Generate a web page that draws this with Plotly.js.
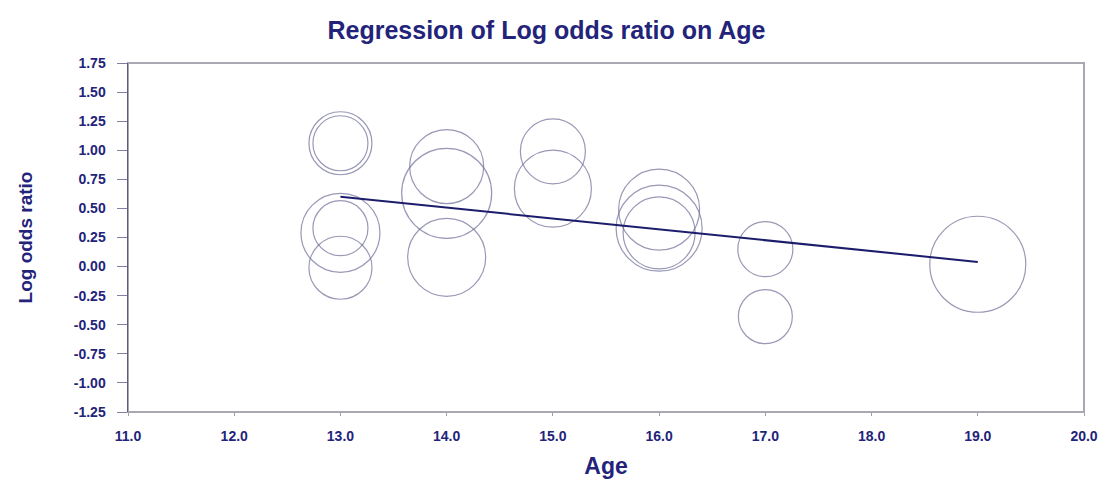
<!DOCTYPE html>
<html>
<head>
<meta charset="utf-8">
<script src="https://cdn.plot.ly/plotly-3.0.1.min.js"></script>
<style>
html,body{margin:0;padding:0;background:#ffffff;}
#chart{width:1104px;height:483px;}
</style>
</head>
<body>
<div id="chart"></div>
<script>
// Study-level data
var age          = [13, 13, 13, 13, 13, 14, 14, 14, 15, 15, 16, 16, 16, 17, 17, 19];
var logOddsRatio = [1.06, 1.06, 0.29, 0.33, -0.01, 0.86, 0.63, 0.08, 0.99, 0.67, 0.49, 0.33, 0.29, 0.15, -0.43, 0.02];
var studyWeight  = [63, 55, 79, 55, 63, 74, 90, 78, 65, 77, 81, 86, 72, 55, 54, 96];

// Fitted regression line end points
var fitAge = [13, 19];
var fitLogOdds = [0.60, 0.04];

// Tick values and labels
var xTickVals = [11, 12, 13, 14, 15, 16, 17, 18, 19, 20];
var xTickLabels = ['11.0', '12.0', '13.0', '14.0', '15.0', '16.0', '17.0', '18.0', '19.0', '20.0'];
var yTickVals = [-1.25, -1.0, -0.75, -0.5, -0.25, 0, 0.25, 0.5, 0.75, 1.0, 1.25, 1.5, 1.75];
var yTickLabels = ['-1.25', '-1.00', '-0.75', '-0.50', '-0.25', '0.00', '0.25', '0.50', '0.75', '1.00', '1.25', '1.50', '1.75'];

var navy = '#23237a';
var fontFam = '"Liberation Sans", Arial, sans-serif';

var bubbles = {
  type: 'scatter',
  mode: 'markers',
  x: age,
  y: logOddsRatio,
  marker: {
    size: studyWeight,
    sizemode: 'diameter',
    sizeref: 1,
    color: 'rgba(0,0,0,0)',
    line: {color: '#6e6e98', width: 1.2}
  },
  hoverinfo: 'x+y',
  showlegend: false
};

var fit = {
  type: 'scatter',
  mode: 'lines',
  x: fitAge,
  y: fitLogOdds,
  line: {color: '#1c1c6c', width: 2},
  hoverinfo: 'skip',
  showlegend: false
};

var layout = {
  width: 1104,
  height: 483,
  paper_bgcolor: '#ffffff',
  plot_bgcolor: '#ffffff',
  margin: {l: 128, r: 20, t: 63, b: 71},
  title: {
    text: 'Regression of Log odds ratio on Age',
    font: {family: fontFam, size: 25, color: navy, weight: 'bold'},
    x: 0.495, xanchor: 'center',
    y: 0.937, yanchor: 'middle', yref: 'container'
  },
  xaxis: {
    range: [11, 20],
    tickvals: xTickVals,
    ticktext: xTickLabels,
    ticks: 'outside',
    ticklen: 3,
    tickcolor: '#a0a0a8',
    ticklabelstandoff: 8,
    showgrid: false,
    zeroline: false,
    showline: false,
    tickfont: {family: fontFam, size: 14, color: navy, weight: 'bold'},
    title: {text: 'Age', font: {family: fontFam, size: 23, color: navy, weight: 'bold'}, standoff: 15}
  },
  yaxis: {
    range: [-1.25, 1.75],
    tickvals: yTickVals,
    ticktext: yTickLabels,
    ticks: 'outside',
    ticklen: 10,
    tickcolor: '#8080a0',
    ticklabelstandoff: 8,
    showgrid: false,
    zeroline: false,
    showline: true,
    linecolor: '#5c5c80',
    linewidth: 1.5,
    tickfont: {family: fontFam, size: 14, color: navy, weight: 'bold'},
    title: {text: 'Log odds ratio', font: {family: fontFam, size: 19, color: navy, weight: 'bold'}, standoff: 36}
  },
  shapes: [{
    type: 'rect', xref: 'paper', yref: 'paper', x0: 0, x1: 1, y0: 0, y1: 1,
    line: {color: '#a8a8b2', width: 2}, layer: 'below'
  }]
};

Plotly.newPlot('chart', [bubbles, fit], layout, {displayModeBar: false, staticPlot: true});
</script>
</body>
</html>
